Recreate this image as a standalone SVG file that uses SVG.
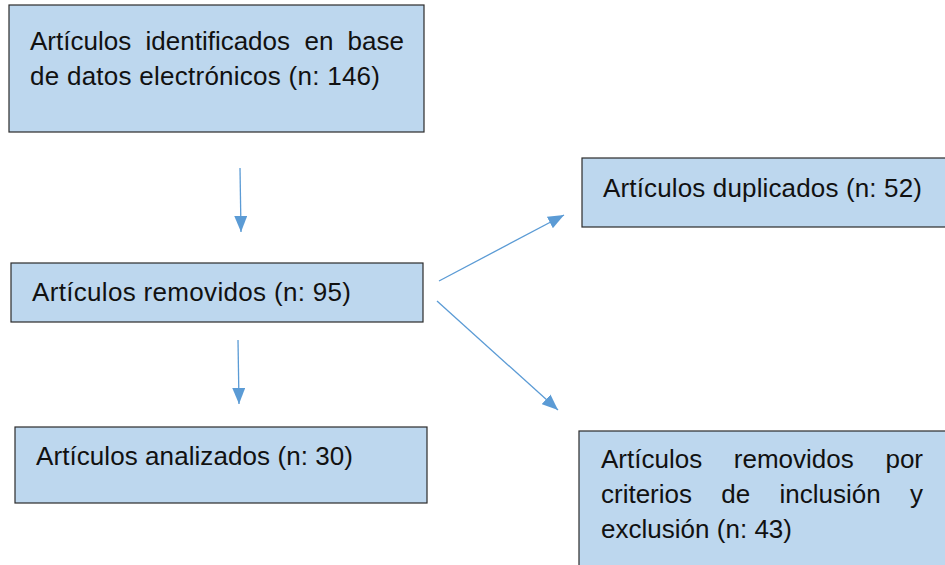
<svg xmlns="http://www.w3.org/2000/svg" width="945" height="565" viewBox="0 0 945 565">
<style>
.box{fill:#BDD7EE;stroke:#2b2b2b;stroke-width:1.2}
.t{font-family:"Liberation Sans",Arial,sans-serif;font-size:26px;fill:#111}
.e{text-anchor:end}
.c{stroke:#5B9BD5;stroke-width:1.3;fill:none;marker-end:url(#ah)}
</style>
<defs>
<marker id="ah" viewBox="0 0 10 10" refX="10" refY="5" markerWidth="16" markerHeight="13" markerUnits="userSpaceOnUse" orient="auto" preserveAspectRatio="none">
<path d="M0,0 L10,5 L0,10 Z" fill="#5B9BD5"/>
</marker>
</defs>
<rect width="945" height="565" fill="#fff"/>
<g id="n1">
<rect class="box" x="9" y="5" width="415" height="127"/>
<text class="t" x="30" y="50">Artículos</text>
<text class="t" x="145.5" y="50">identificados</text>
<text class="t" x="304.5" y="50">en</text>
<text class="t e" x="404" y="50">base</text>
<text class="t" x="30" y="85" textLength="350" lengthAdjust="spacing">de datos electrónicos (n: 146)</text>
</g>
<g id="n2">
<rect class="box" x="11" y="263" width="412" height="59"/>
<text class="t" x="32" y="301" textLength="319" lengthAdjust="spacing">Artículos removidos (n: 95)</text>
</g>
<g id="n3">
<rect class="box" x="15" y="427" width="412" height="76"/>
<text class="t" x="36" y="465" textLength="317" lengthAdjust="spacing">Artículos analizados (n: 30)</text>
</g>
<g id="n4">
<rect class="box" x="582" y="158" width="370" height="69"/>
<text class="t" x="603" y="197" textLength="319" lengthAdjust="spacing">Artículos duplicados (n: 52)</text>
</g>
<g id="n5">
<rect class="box" x="579" y="431" width="373" height="140"/>
<text class="t" x="601" y="468">Artículos</text>
<text class="t" x="733.8" y="468">removidos</text>
<text class="t e" x="923" y="468">por</text>
<text class="t" x="601" y="503">criterios</text>
<text class="t" x="721.3" y="503">de</text>
<text class="t" x="779.5" y="503">inclusión</text>
<text class="t e" x="923" y="503">y</text>
<text class="t" x="601" y="538" textLength="191" lengthAdjust="spacing">exclusión (n: 43)</text>
</g>
<g id="connectors">
<line class="c" x1="240" y1="168" x2="241" y2="232"/>
<line class="c" x1="238" y1="340" x2="239" y2="404"/>
<line class="c" x1="439" y1="281" x2="564" y2="215"/>
<line class="c" x1="437" y1="301" x2="558" y2="410"/>
</g>
</svg>
